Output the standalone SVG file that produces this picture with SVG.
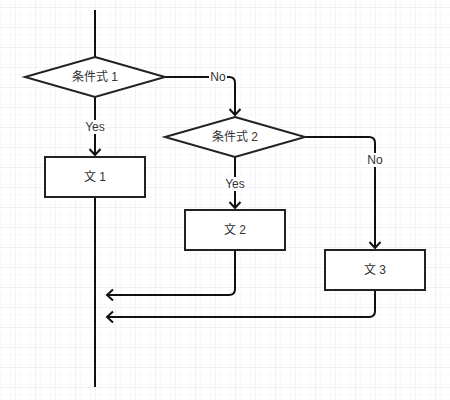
<svg xmlns="http://www.w3.org/2000/svg" width="450" height="400" viewBox="0 0 450 400">
  <defs>
    <pattern id="gridMinor" width="10" height="10" patternUnits="userSpaceOnUse" x="5" y="7">
      <path d="M10,0 L0,0 L0,10" fill="none" stroke="#f3f3f8" stroke-width="1"/>
    </pattern>
    <pattern id="grid" width="20" height="20" patternUnits="userSpaceOnUse" x="15" y="7">
      <rect width="20" height="20" fill="url(#gridMinor)"/>
      <path d="M20,0 L0,0 L0,20" fill="none" stroke="#e4e4ee" stroke-width="1"/>
    </pattern>
    <marker id="arrow" markerWidth="14" markerHeight="14" refX="10" refY="7" orient="auto" markerUnits="userSpaceOnUse">
      <path d="M4,1.5 L10,7 L4,12.5" fill="none" stroke="#111" stroke-width="2"/>
    </marker>
  </defs>
  <style>
    .shape { fill: #ffffff; stroke: #222222; stroke-width: 2; }
    .edge { fill: none; stroke: #111111; stroke-width: 2; }
    .txt { font-family: "Liberation Sans", "Noto Sans CJK JP", sans-serif; font-size: 12px; fill: #333333; text-anchor: middle; dominant-baseline: central; }
    .lbl { font-family: "Liberation Sans", "Noto Sans CJK JP", sans-serif; font-size: 12px; fill: #333333; text-anchor: middle; dominant-baseline: central; }
    .lblbg { fill: #ffffff; }
  </style>
  <rect width="450" height="400" fill="#ffffff"/>
  <rect width="450" height="400" fill="url(#grid)"/>

  <g id="connectors">
    <path class="edge" d="M95,10 L95,57"/>
    <path class="edge" d="M95,97 L95,155" marker-end="url(#arrow)"/>
    <path class="edge" d="M165,77 L229,77 Q235,77 235,83 L235,115" marker-end="url(#arrow)"/>
    <path class="edge" d="M95,197 L95,387"/>
    <path class="edge" d="M235,157 L235,208" marker-end="url(#arrow)"/>
    <path class="edge" d="M305,137 L369,137 Q375,137 375,143 L375,248" marker-end="url(#arrow)"/>
    <path class="edge" d="M235,250 L235,289 Q235,295 229,295 L107,295" marker-end="url(#arrow)"/>
    <path class="edge" d="M375,290 L375,311 Q375,317 369,317 L107,317" marker-end="url(#arrow)"/>
    <rect class="lblbg" x="84" y="120" width="22" height="14"/>
    <text class="lbl" x="95" y="127">Yes</text>
    <rect class="lblbg" x="209" y="70" width="18" height="14"/>
    <text class="lbl" x="218" y="77">No</text>
    <rect class="lblbg" x="224" y="177" width="22" height="14"/>
    <text class="lbl" x="235" y="184">Yes</text>
    <rect class="lblbg" x="366" y="153" width="18" height="14"/>
    <text class="lbl" x="375" y="160">No</text>
  </g>

  <g id="cond1">
    <polygon class="shape" points="95,57 165,77 95,97 25,77"/>
    <text class="txt" x="95" y="77">条件式 1</text>
  </g>
  <g id="cond2">
    <polygon class="shape" points="235,117 305,137 235,157 165,137"/>
    <text class="txt" x="235" y="137">条件式 2</text>
  </g>
  <g id="stmt1">
    <rect class="shape" x="45" y="157" width="100" height="40"/>
    <text class="txt" x="95" y="177">文 1</text>
  </g>
  <g id="stmt2">
    <rect class="shape" x="185" y="210" width="100" height="40"/>
    <text class="txt" x="235" y="230">文 2</text>
  </g>
  <g id="stmt3">
    <rect class="shape" x="325" y="250" width="100" height="40"/>
    <text class="txt" x="375" y="270">文 3</text>
  </g>
</svg>
